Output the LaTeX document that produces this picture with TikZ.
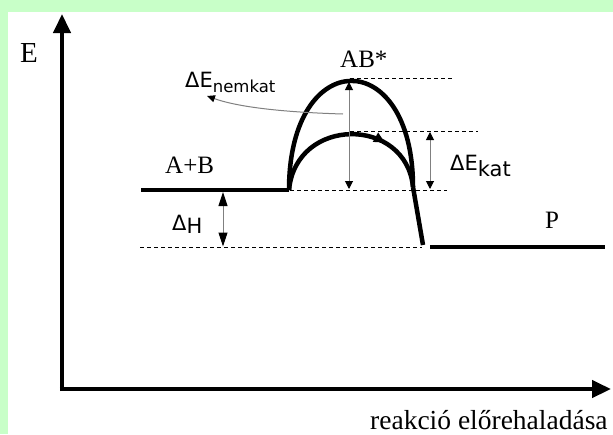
\documentclass[tikz,border=0pt]{standalone}
\usepackage{fontspec}
\setmainfont{Liberation Serif}
\newfontfamily\dvs{DejaVu Sans}
\usetikzlibrary{arrows.meta,decorations.markings}
\definecolor{bggreen}{RGB}{200,255,200}
\definecolor{lgray}{RGB}{128,128,128}
\begin{document}
\begin{tikzpicture}[x=1pt,y=-1pt,
  thickline/.style={line width=4.5pt},
  axisline/.style={line width=4.5pt,-{Triangle[length=19pt,width=17pt]}},
  guide/.style={line width=0.8pt,dash pattern=on 4pt off 3pt},
  dimarrow/.style={lgray,line width=1pt,{Triangle[length=8pt,width=8pt,color=black]}-{Triangle[length=8pt,width=8pt,color=black]}},
  bigdim/.style={lgray,line width=1pt,{Triangle[length=14pt,width=9pt,color=black]}-{Triangle[length=14pt,width=9pt,color=black]}},
  lbl/.style={inner sep=0pt,anchor=base west,font=\fontsize{25}{28}\selectfont},
  dlbl/.style={inner sep=0pt,anchor=base west,font=\dvs\fontsize{21}{24}\selectfont}]
% background
\fill[bggreen] (0,0) rectangle (613,434);
\fill[white] (8,12) rectangle (613,434);
\useasboundingbox (0,0) rectangle (613,434);
% axes
\coordinate (ybase) at (62,391.2);
\coordinate (ytip) at (62,14);
\coordinate (xbase) at (59.8,389);
\coordinate (xtip) at (611,389);
\draw[axisline] (ybase) -- (ytip);
\draw[axisline] (xbase) -- (xtip);
% levels
\coordinate (abL) at (141,190);
\coordinate (abR) at (289,190);
\coordinate (pL) at (430,247);
\coordinate (pR) at (605,247);
\draw[thickline] (abL) -- (abR);
\draw[thickline] (pL) -- (pR);
% dashed guides
\coordinate (g1a) at (350,78);  \coordinate (g1b) at (452,78);
\coordinate (g2a) at (350,131); \coordinate (g2b) at (478,131);
\coordinate (g3a) at (283,190); \coordinate (g3b) at (447,190);
\coordinate (g4a) at (140,247); \coordinate (g4b) at (422,247);
\draw[guide] (g1a) -- (g1b);
\draw[guide] (g2a) -- (g2b);
\draw[guide] (g3a) -- (g3b);
\draw[guide] (g4a) -- (g4b);
% curves
\coordinate (footL) at (289,190);
\coordinate (footR) at (413,187);
\coordinate (fall) at (423,245);
\draw[thickline] (footL) .. controls (289,45) and (413,45) .. (footR);
\draw[thickline,decoration={markings,mark=at position 0.7 with {\arrow{Triangle[length=11pt,width=10pt]}}},postaction={decorate}]
  (footL) .. controls (296,116) and (406,116) .. (footR);
\draw[thickline] (footR) -- (fall);
% dimension arrows
\coordinate (n1) at (349,82);  \coordinate (n2) at (349,189);
\coordinate (k1) at (430,132); \coordinate (k2) at (430,189);
\coordinate (h1) at (223,192); \coordinate (h2) at (223,246.5);
\draw[dimarrow] (n1) -- (n2);
\draw[dimarrow] (k1) -- (k2);
\draw[bigdim] (h1) -- (h2);
% curved pointer
\coordinate (ca1) at (343,114);
\coordinate (ca2) at (207,96);
\draw[lgray,line width=1pt,-{Triangle[length=8pt,width=7pt,color=black]}] (ca1) .. controls (275,112) and (235,106) .. (ca2);
% labels
\node[lbl,font=\fontsize{29}{32}\selectfont] (lE) at (20,62) {E};
\node[lbl] (lAB) at (165,173) {A+B};
\node[lbl] (lTS) at (340,67) {AB*};
\node[lbl] (lP) at (545,228) {P};
\node[lbl,font=\fontsize{27.5}{30}\selectfont] (lX) at (370,429) {reakció előrehaladása};
\node[dlbl] (lN) at (185,87) {ΔE\raisebox{-5pt}{\fontsize{16.5}{18}\selectfont nemkat}};
\node[dlbl] (lK) at (450,170) {ΔE\raisebox{-6pt}{\fontsize{21}{22}\selectfont kat}};
\node[dlbl] (lH) at (172,230) {Δ\raisebox{-3pt}{H}};
\end{tikzpicture}
\end{document}
